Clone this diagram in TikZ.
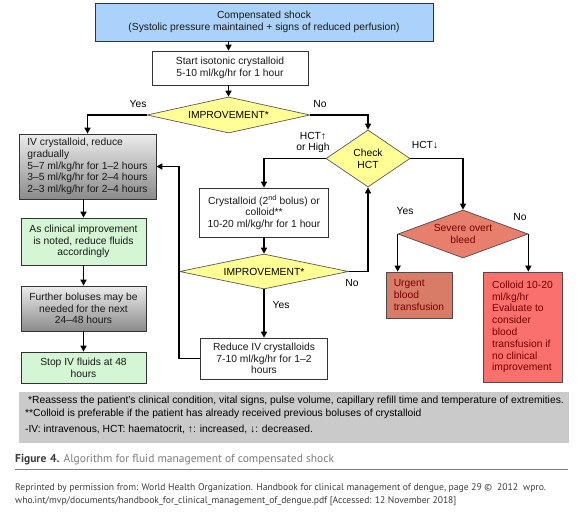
\documentclass[tikz,border=0pt]{standalone}
\usepackage{fontspec}
\setmainfont{Liberation Sans}
\newfontfamily\capfont{PT Sans}
\usetikzlibrary{shapes.geometric,arrows.meta}
\definecolor{topblue}{RGB}{170,210,250}
\definecolor{diayel}{RGB}{255,255,150}
\definecolor{lgreen}{RGB}{212,246,212}
\definecolor{gtop}{RGB}{236,236,236}
\definecolor{gbot}{RGB}{138,138,138}
\definecolor{sevred}{RGB}{232,126,108}
\definecolor{urgred}{RGB}{216,124,104}
\definecolor{colred}{RGB}{250,112,108}
\definecolor{dred}{RGB}{120,0,0}
\definecolor{footgray}{RGB}{202,202,202}
\definecolor{capgray}{RGB}{125,125,125}
\definecolor{capdark}{RGB}{60,60,60}
\newcommand\myfs{\fontsize{10.3}{11.8}\selectfont}
\newcommand\footfs{\fontsize{10.3}{12}\selectfont}
\begin{document}
\begin{tikzpicture}[x=1pt,y=-1pt,
  box/.style={draw=black!80, line width=0.7pt, inner sep=0pt, align=center, font=\myfs, text=black!90},
  greybox/.style={box, top color=gtop, bottom color=gbot},
  greenbox/.style={box, fill=lgreen},
  redbox/.style={box, draw=black!70, text=dred, align=left},
  dia/.style={diamond, draw=black!65, line width=0.7pt, fill=diayel, inner sep=0pt, font=\myfs, align=center},
  arr/.style={draw=black, line width=1.4pt, -{Triangle[length=6pt,width=6pt]}},
  lbl/.style={font=\myfs, inner sep=0pt, align=center}]
\useasboundingbox (0,0) rectangle (584,522);
\fill[white] (0,0) rectangle (584,522);

% nodes
\node[box, fill=topblue, minimum width=338pt, minimum height=38pt] (top) at (264,22)
  {Compensated shock\\(Systolic pressure maintained + signs of reduced perfusion)};
\node[box, fill=white, minimum width=156pt, minimum height=34pt] (start) at (230,68)
  {Start isotonic crystalloid\\5-10 ml/kg/hr for 1 hour};
\node[dia, aspect=4.53, minimum width=163pt, minimum height=36pt] (imp1) at (228.5,115) {IMPROVEMENT*};
\node[dia, aspect=1.47, minimum width=84pt, minimum height=57pt] (check) at (368,158.5) {Check\\HCT};
\node[greybox, align=left, minimum width=137pt, minimum height=65pt] (g1) at (87.5,166.5)
  {IV crystalloid, reduce\\gradually\\5–7 ml/kg/hr for 1–2 hours\\3–5 ml/kg/hr for 2–4 hours\\2–3 ml/kg/hr for 2–4 hours};
\node[greenbox, minimum width=125pt, minimum height=47pt] (gr1) at (83.5,241.5)
  {As clinical improvement\\is noted, reduce fluids\\accordingly};
\node[greybox, minimum width=125pt, minimum height=45pt] (g2) at (83.5,308.5)
  {Further boluses may be\\needed for the next\\24–48 hours};
\node[greenbox, minimum width=125pt, minimum height=31pt] (gr2) at (83.5,367.5)
  {Stop IV fluids at 48\\hours};
\node[box, fill=white, minimum width=129pt, minimum height=49pt] (cryst) at (264,212.5)
  {Crystalloid (2\textsuperscript{nd} bolus) or\\colloid**\\10-20 ml/kg/hr for 1 hour};
\node[dia, aspect=4.83, minimum width=169pt, minimum height=35pt] (imp2) at (264,271.5) {IMPROVEMENT*};
\node[box, fill=white, minimum width=127pt, minimum height=41pt] (reduce) at (264,358.5)
  {Reduce IV crystalloids\\7-10 ml/kg/hr for 1–2\\hours};
\node[dia, aspect=2.7, draw=black!70, fill=sevred, text=dred, minimum width=130pt, minimum height=48pt] (severe) at (463,234)
  {Severe overt\\bleed};
\node[redbox, fill=urgred, minimum width=66pt, minimum height=46pt] (urgent) at (419,295)
  {Urgent\\blood\\transfusion};
\node[redbox, fill=colred, minimum width=79pt, minimum height=110pt] (colloid) at (522.5,327)
  {Colloid 10-20\\ml/kg/hr\\Evaluate to\\consider\\blood\\transfusion if\\no clinical\\improvement};

% connectors
\draw[arr] (top.south -| imp1.north) -- (start.north -| imp1.north);
\draw[arr] (start.south -| imp1.north) -- (imp1.north);
\draw[arr] (imp1.west) -| (g1.north);
\draw[arr] (imp1.east) -| (check.north);
\draw[arr] (check.west) -| (cryst.north);
\draw[arr] (cryst.south) -- (imp2.north);
\draw[arr] (imp2.east) -| (check.south);
\draw[arr] (imp2.south) -- (reduce.north);
\draw[arr] (reduce.west) -| (imp2.west) |- (g1.east);
\draw[arr] (check.east) -| (severe.north);
\draw[arr] (severe.west) -- (severe.west |- urgent.north);
\draw[arr] (severe.east) -- (severe.east |- colloid.north);
\draw[arr] (gr1.north |- g1.south) -- (gr1.north);
\draw[arr] (gr1.south) -- (g2.north);
\draw[arr] (g2.south) -- (gr2.north);

% labels
\node[lbl] (yes1) at (138,104) {Yes};
\node[lbl] (no1) at (320,104) {No};
\node[lbl] (hctup) at (313,142.5) {HCT↑\\or High};
\node[lbl] (hctdn) at (425,145) {HCT↓};
\node[lbl] (yes2) at (281,305) {Yes};
\node[lbl] (no2) at (352,283) {No};
\node[lbl] (yes3) at (405,211) {Yes};
\node[lbl] (no3) at (520,217) {No};

% footnote box
\node[fill=footgray, minimum width=550pt, minimum height=51pt, inner sep=0pt] (foot) at (294,417.5) {};
\node[font=\footfs, anchor=west, inner sep=0pt] (f1) at (28,401)
  {*Reassess the patient's clinical condition, vital signs, pulse volume, capillary refill time and temperature of extremities.};
\node[font=\footfs, anchor=west, inner sep=0pt] (f2) at (25,414)
  {**Colloid is preferable if the patient has already received previous boluses of crystalloid};
\node[font=\footfs, anchor=west, inner sep=0pt] (f3) at (25,429)
  {-IV: intravenous, HCT: haematocrit, ↑: increased, ↓: decreased.};

% caption
\node[font=\capfont\fontsize{11.5}{13}\selectfont, anchor=west, inner sep=0pt] (cap) at (15,460)
  {\textcolor{capdark}{\textbf{Figure\,\,4.}} \textcolor{capgray}{Algorithm for fluid management of compensated shock}};
\coordinate (rl) at (15,469);
\coordinate (rr) at (568,469);
\draw[capgray, line width=0.6pt] (rl) -- (rr);
\node[font=\capfont\fontsize{9.6}{13}\selectfont, text=capdark, anchor=west, align=left, inner sep=0pt] (src) at (15,494.5)
  {Reprinted by permission from: World Health Organization. Handbook for clinical management of dengue, page 29 \textcopyright\ \ 2012\ \ wpro.\\who.int/mvp/documents/handbook\_for\_clinical\_management\_of\_dengue.pdf [Accessed: 12 November 2018]};
\end{tikzpicture}
\end{document}
